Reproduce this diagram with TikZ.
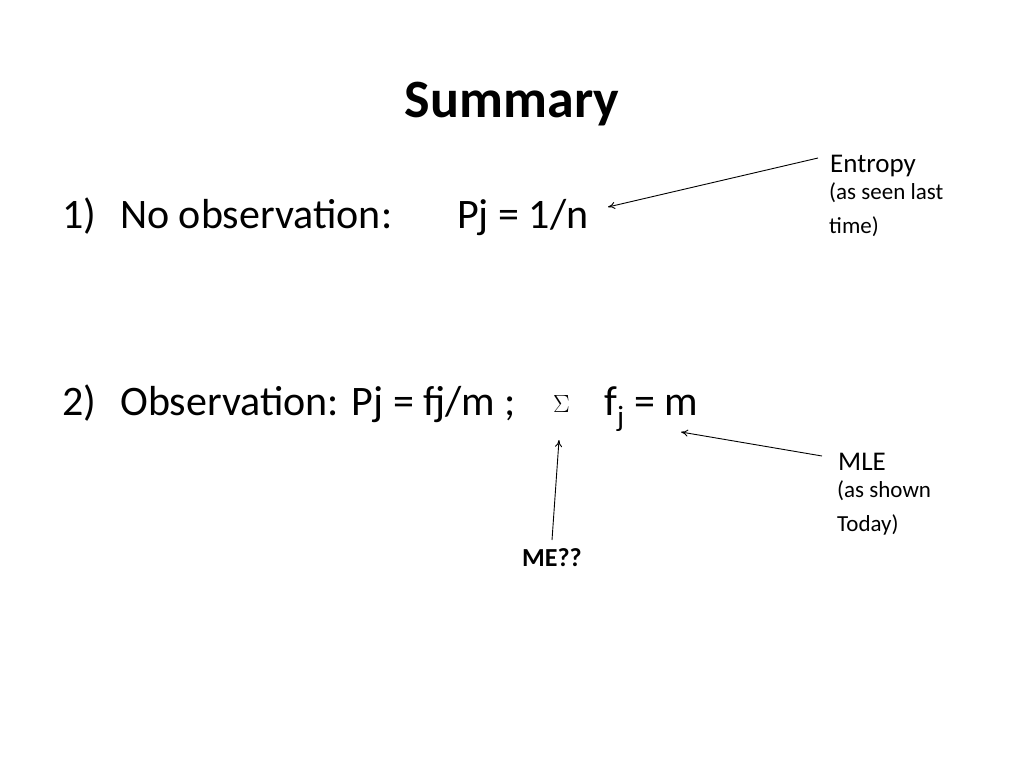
\documentclass[tikz,border=0pt]{standalone}
\usepackage{fontspec}
\setmainfont{Carlito}
\usetikzlibrary{arrows.meta}
\begin{document}
\begin{tikzpicture}[x=1pt,y=-1pt,
  txt/.style={anchor=base west,inner sep=0pt},
  body/.style={txt,font=\fontsize{42}{50}\selectfont},
  note/.style={txt,font=\fontsize{27}{32}\selectfont},
  small/.style={txt,font=\fontsize{23}{34}\selectfont,align=left},
  arr/.style={draw,line width=0.9pt,-{To[length=7pt,width=7pt]}}]
\useasboundingbox (0,0) rectangle (1024,768);
\fill[white] (0,0) rectangle (1024,768);
\node[anchor=base,inner sep=0pt,font=\bfseries\fontsize{54}{60}\selectfont] (title) at (512,117) {Summary};
\node[body] (n1) at (62,228) {1)};
\node[body] (l1) at (120,228) {No observation:};
\node[body] (p1) at (457,228) {Pj = 1/n};
\node[body] (n2) at (62,415) {2)};
\node[body] (l2) at (120,415) {Observation: Pj = fj/m ;};
\node[body] (sig) at (553,412) {$\Sigma$};
\node[body] (fj) at (604,415) {f\textsubscript{j} = m};
\node[note] (ent) at (830,172) {Entropy};
\node[small,anchor=north west] (ents) at (829,182) {(as seen last\\time)};
\node[note] (mle) at (838,470) {MLE};
\node[small,anchor=north west] (mles) at (837,480) {(as shown\\Today)};
\node[txt,font=\bfseries\fontsize{26}{30}\selectfont] (me) at (522,566) {ME??};
\coordinate (a1s) at (818,158); \coordinate (a1e) at (608,207);
\coordinate (a2s) at (822,456); \coordinate (a2e) at (681,432);
\coordinate (a3s) at (552,540); \coordinate (a3e) at (559,440);
\draw[arr] (a1s) -- (a1e);
\draw[arr] (a2s) -- (a2e);
\draw[arr] (a3s) -- (a3e);
\end{tikzpicture}
\end{document}
